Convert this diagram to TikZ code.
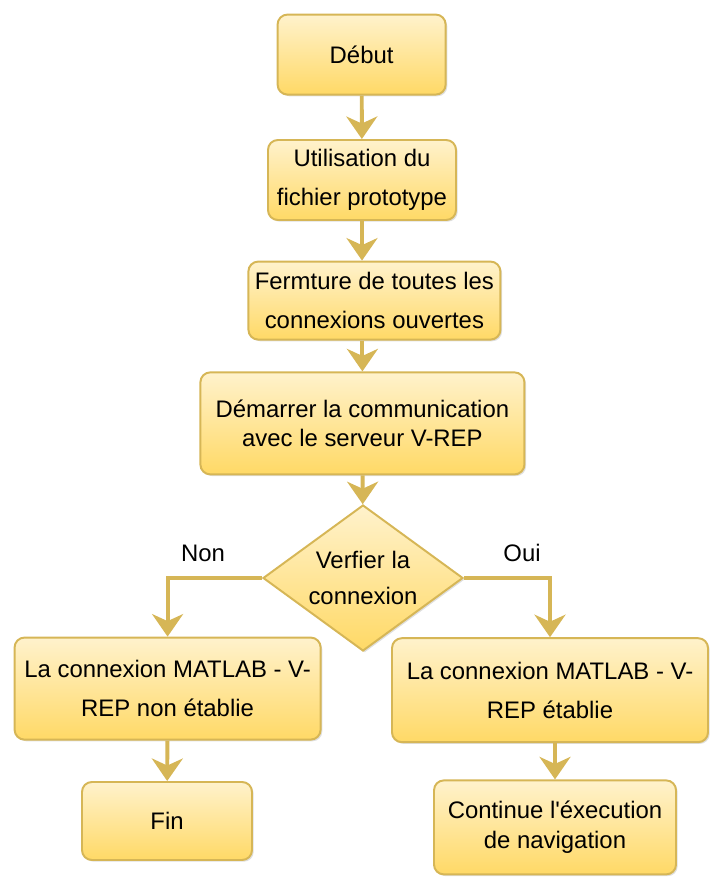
\documentclass[tikz,border=0pt]{standalone}
\usepackage{fontspec}
\setmainfont{Liberation Sans}
\usepackage{tikz}
\definecolor{fcfill}{HTML}{FFF2CC}
\definecolor{fcgrad}{HTML}{FFD966}
\definecolor{fcline}{HTML}{D6B656}
\usetikzlibrary{arrows.meta,positioning,shapes.geometric,shadows}

\begin{document}
\begin{tikzpicture}[
  fcbox/.style={draw=fcline,line width=1.4pt,rounded corners=7pt,top color=fcfill,bottom color=fcgrad,
    drop shadow={shadow xshift=1.2pt,shadow yshift=-1.2pt,opacity=0.25},
    align=center,inner sep=2pt,font=\fontsize{17}{28}\selectfont},
  fcdecision/.style={fcbox,diamond,rounded corners=0pt,inner sep=0pt,aspect=1.37},
  fcarrow/.style={draw=fcline,line width=2.8pt,-{Stealth[length=16pt,width=22pt,inset=5pt]}},
  fclabel/.style={font=\fontsize{17}{20}\selectfont}
]
  \useasboundingbox (0,0) rectangle (17.725,21.975);

  \node[fcbox,minimum width=4.2cm,minimum height=2.0cm] (debut) at (9.04,20.61) {Début};
  \node[fcbox,minimum width=4.7cm,minimum height=2.0cm] (util) at (9.05,17.475) {Utilisation du\\fichier prototype};
  \node[fcbox,minimum width=6.3cm,minimum height=1.95cm] (ferm) at (9.36,14.46) {Fermture de toutes les\\connexions ouvertes};
  \node[fcbox,minimum width=8.1cm,minimum height=2.55cm,font=\fontsize{17}{21}\selectfont] (demarrer) at (9.06,11.39)
    {Démarrer la communication\\avec le serveur V-REP};
  \node[fcdecision,minimum width=5.0cm,minimum height=3.65cm,font=\fontsize{17}{26}\selectfont] (verif) at (9.075,7.525)
    {Verfier la\\connexion};
  \node[fcbox,minimum width=7.65cm,minimum height=2.55cm] (nonok) at (4.19,4.76) {La connexion MATLAB - V-\\REP non établie};
  \node[fcbox,minimum width=4.25cm,minimum height=1.95cm] (fin) at (4.175,1.45) {Fin};
  \node[fcbox,minimum width=7.9cm,minimum height=2.6cm] (ok) at (13.75,4.72) {La connexion MATLAB - V-\\REP établie};
  \node[fcbox,minimum width=6.05cm,minimum height=2.35cm,font=\fontsize{17}{21}\selectfont] (cont) at (13.875,1.29)
    {Continue l\textquotesingle éxecution\\de navigation};

  \node[fclabel] (non) at (5.075,8.15) {Non};
  \node[fclabel] (oui) at (13.05,8.15) {Oui};

  % main chain
  \draw[fcarrow] (debut) -- (util);
  \draw[fcarrow] (util.south) -- (util.south |- ferm.north);
  \draw[fcarrow] (ferm.south -| demarrer.north) -- (demarrer.north);
  \draw[fcarrow] (demarrer) -- (verif);
  % branches
  \draw[fcarrow] (verif.west) -| (nonok.north);
  \draw[fcarrow] (verif.east) -| (ok.north);
  \draw[fcarrow] (nonok) -- (fin);
  \draw[fcarrow] (ok.south -| cont.north) -- (cont.north);
\end{tikzpicture}
\end{document}
